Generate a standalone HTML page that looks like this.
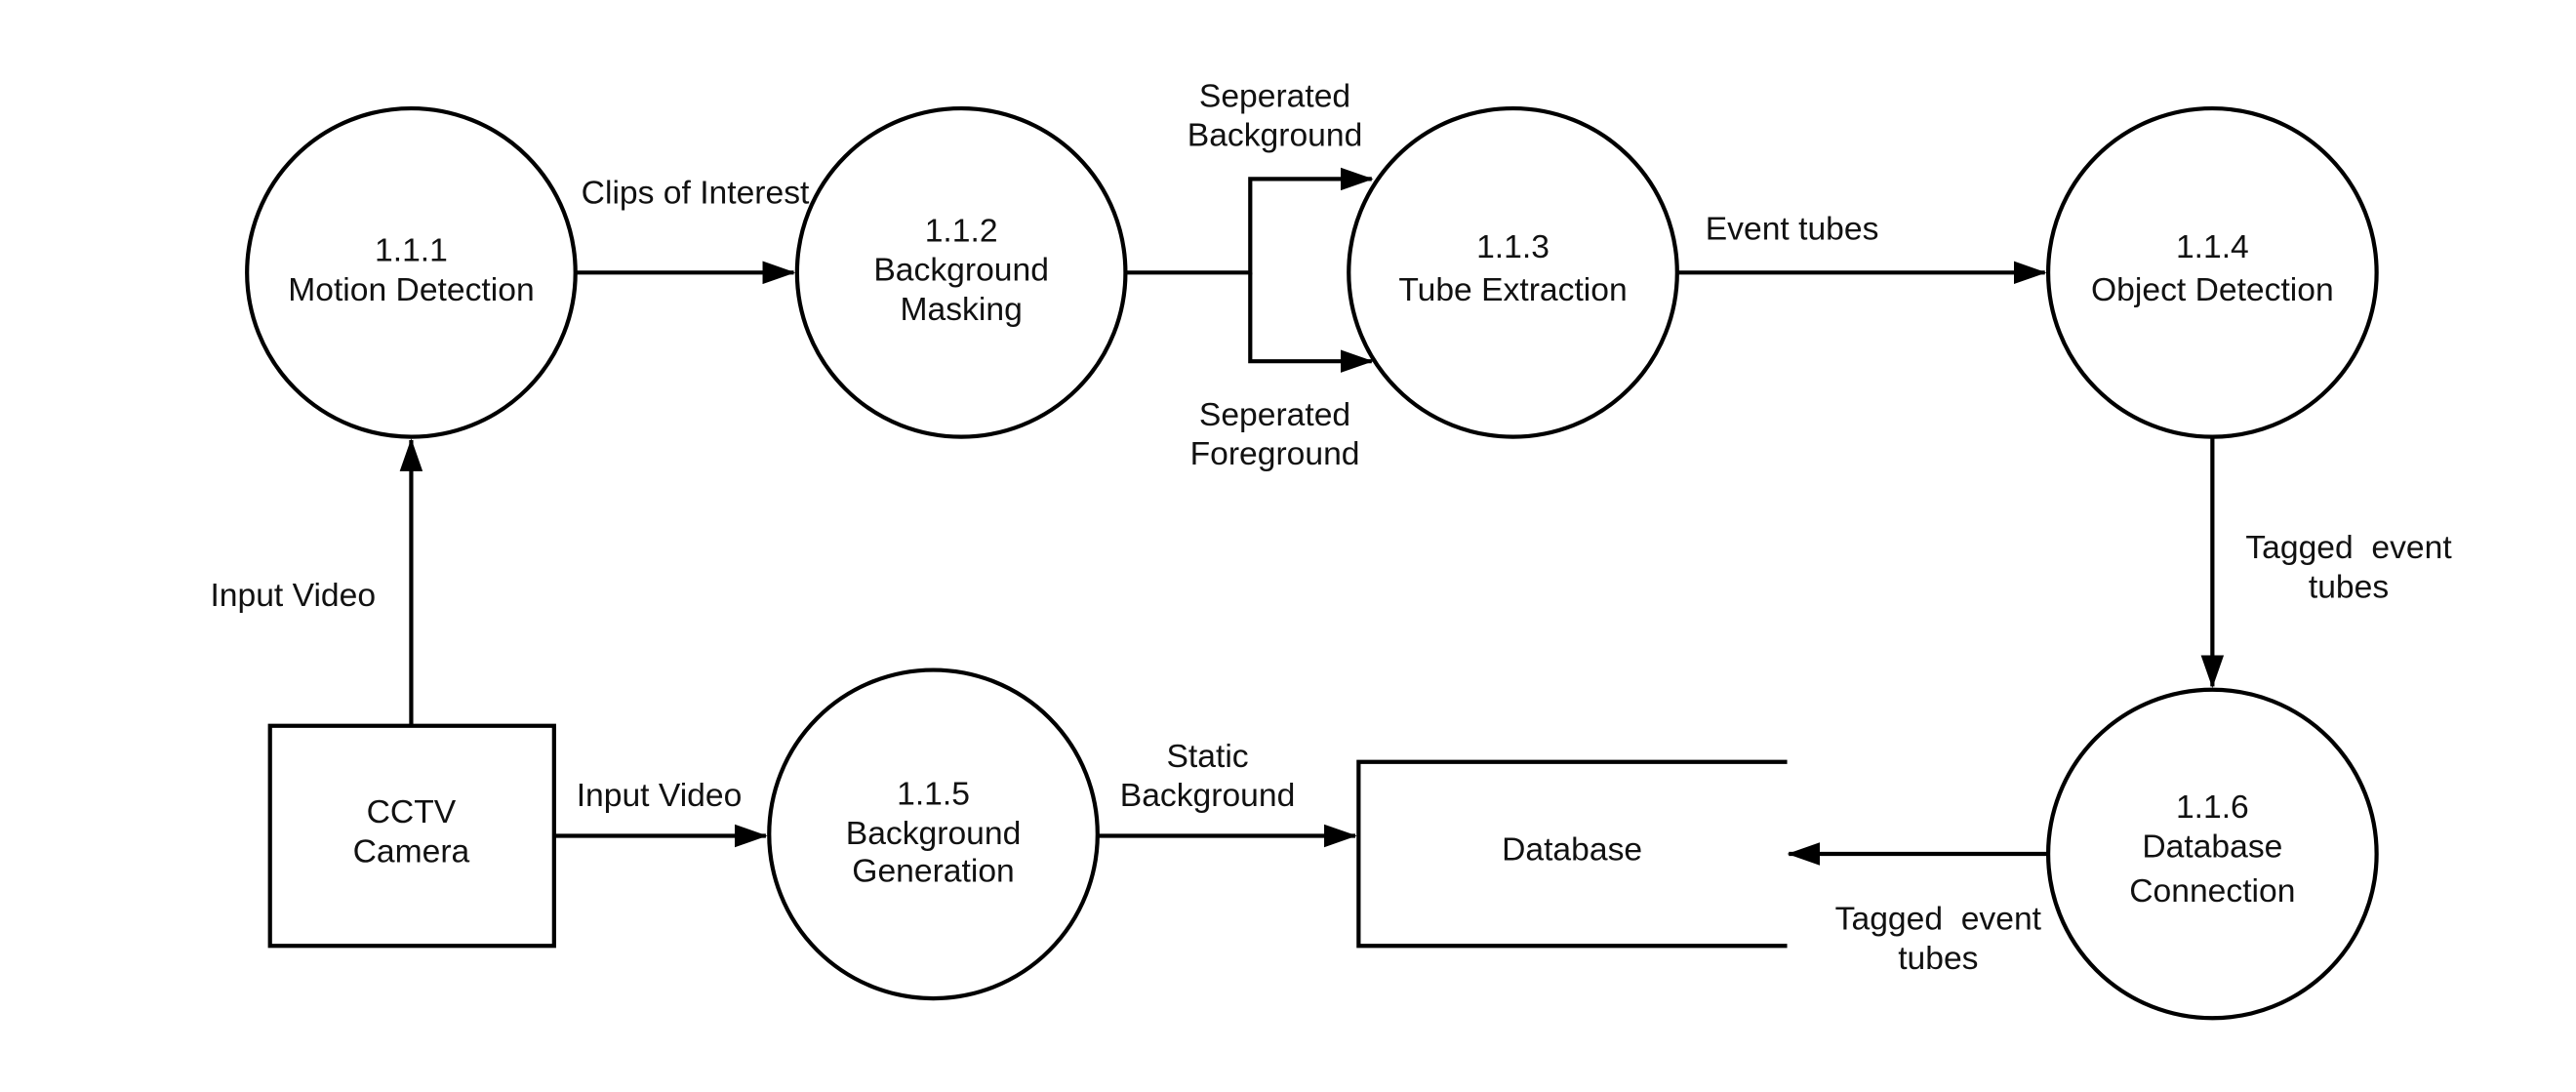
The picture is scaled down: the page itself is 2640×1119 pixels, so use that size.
<!DOCTYPE html>
<html><head><meta charset="utf-8"><style>
html,body{margin:0;padding:0;background:#fff;}
svg{display:block;}
text{font-family:"Liberation Sans",sans-serif;font-size:20px;fill:#111;text-anchor:middle;white-space:pre;}
</style></head><body>
<svg width="2640" height="1119" viewBox="0 0 1568 665" xmlns="http://www.w3.org/2000/svg">
<defs>
<marker id="b" markerWidth="20" markerHeight="14" refX="19" refY="7" orient="auto" markerUnits="userSpaceOnUse"><path d="M0,0 L20,7 L0,14 z" fill="#000"/></marker></defs>
<g fill="none" stroke="#000" stroke-width="2.5">
<circle cx="250" cy="166" r="100"/>
<circle cx="585" cy="166" r="100"/>
<circle cx="921" cy="166" r="100"/>
<circle cx="1347" cy="166" r="100"/>
<circle cx="568" cy="508" r="100"/>
<circle cx="1347" cy="520" r="100"/>
<rect x="164" y="442" width="173" height="134"/>
<path d="M1088,464 H827 V576 H1088"/>
<g marker-end="url(#b)">
<line x1="351" y1="166" x2="483" y2="166"/>
<path d="M685,166 H761 V109 H835"/>
<path d="M761,166 V220 H835"/>
<line x1="1021" y1="166" x2="1245" y2="166"/>
<line x1="1347" y1="267" x2="1347" y2="418"/>
<line x1="1247" y1="520" x2="1089" y2="520"/>
<line x1="337" y1="509" x2="466" y2="509"/>
<line x1="668" y1="509" x2="825" y2="509"/>
<line x1="250" y1="442" x2="250" y2="268"/>
</g></g>
<text x="250" y="159">1.1.1</text><text x="250" y="183">Motion Detection</text>
<text x="585" y="147">1.1.2</text><text x="585" y="171">Background</text><text x="585" y="195">Masking</text>
<text x="921" y="157">1.1.3</text><text x="921" y="183">Tube Extraction</text>
<text x="1347" y="157">1.1.4</text><text x="1347" y="183">Object Detection</text>
<text x="568" y="490">1.1.5</text><text x="568" y="514">Background</text><text x="568" y="537">Generation</text>
<text x="1347" y="498">1.1.6</text><text x="1347" y="522">Database</text><text x="1347" y="549">Connection</text>
<text x="250" y="501">CCTV</text><text x="250" y="525">Camera</text>
<text x="957" y="524">Database</text>
<text x="423" y="124">Clips of Interest</text>
<text x="776" y="65">Seperated</text><text x="776" y="89">Background</text>
<text x="776" y="259">Seperated</text><text x="776" y="283">Foreground</text>
<text x="1091" y="146">Event tubes</text>
<text x="1430" y="340">Tagged  event</text><text x="1430" y="364">tubes</text>
<text x="1180" y="566">Tagged  event</text><text x="1180" y="590">tubes</text>
<text x="178" y="369">Input Video</text>
<text x="401" y="491">Input Video</text>
<text x="735" y="467">Static</text><text x="735" y="491">Background</text>
</svg>
</body></html>
